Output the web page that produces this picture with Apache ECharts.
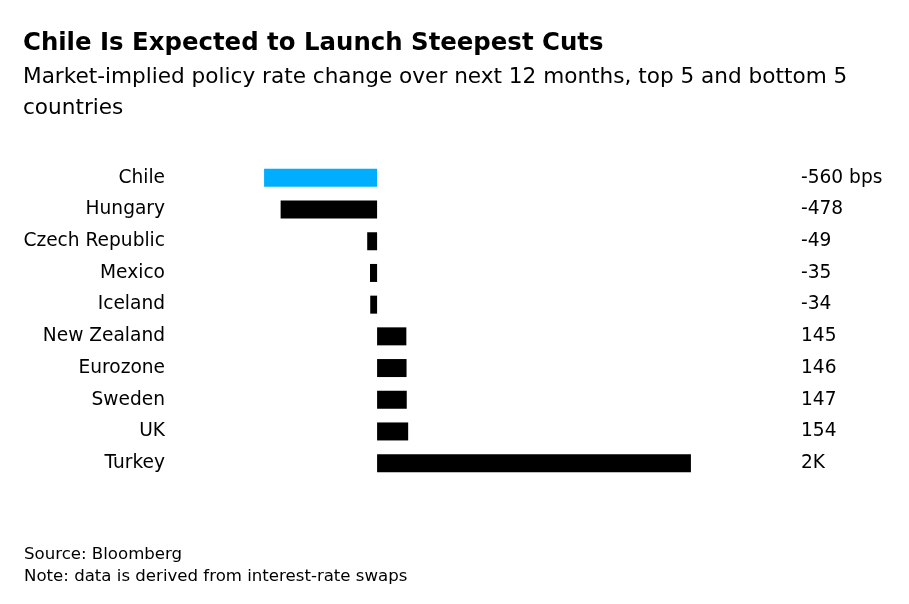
<!DOCTYPE html>
<html><head><meta charset="utf-8">
<script src="https://cdn.jsdelivr.net/npm/echarts@6/dist/echarts.min.js"></script>
<style>html,body{margin:0;padding:0;background:#fff}#c{width:909px;height:604px}</style>
</head><body><div id="c"></div>
<script>
const categories = ["Chile","Hungary","Czech Republic","Mexico","Iceland","New Zealand","Eurozone","Sweden","UK","Turkey"];
const values = [-560,-478,-49,-35,-34,145,146,147,154,1555];
const valueLabels = ["-560 bps","-478","-49","-35","-34","145","146","147","154","2K"];
const highlight = "Chile";

const chart = echarts.init(document.getElementById('c'), null, {renderer:'canvas'});
const font = "DejaVu Sans";
chart.setOption({
  animation:false,
  backgroundColor:'#fff',
  title:[
    {text:"Chile Is Expected to Launch Steepest Cuts", left:23, top:32, padding:0,
     textStyle:{fontFamily:font, fontWeight:'bold', fontSize:24.4, color:'#000'}},
    {text:"Market-implied policy rate change over next 12 months, top 5 and bottom 5\ncountries", left:23, top:62, padding:0,
     textStyle:{fontFamily:font, fontWeight:'normal', fontSize:21.6, lineHeight:31, color:'#000'}},
    {text:"Source: Bloomberg\nNote: data is derived from interest-rate swaps", left:24, top:544, padding:0,
     textStyle:{fontFamily:font, fontWeight:'normal', fontSize:16.6, lineHeight:22, color:'#000'}}
  ],
  grid:{left:256, width:444, top:162, height:317},
  xAxis:{type:'value', min:-600, max:1600, show:false},
  yAxis:[
    {type:'category', data:categories, inverse:true,
     axisLine:{show:false}, axisTick:{show:false},
     axisLabel:{margin:91, fontFamily:font, fontSize:18.6, color:'#000'}},
    {type:'category', data:valueLabels, inverse:true, position:'right',
     axisLine:{show:false}, axisTick:{show:false},
     axisLabel:{margin:101, align:'left', fontFamily:font, fontSize:18.6, color:'#000'}}
  ],
  series:[{
    type:'bar', yAxisIndex:0, barWidth:18,
    data: values.map((v,i)=>({value:v, itemStyle:{color: categories[i]===highlight ? '#00AEFF' : '#000'}}))
  }]
});
</script></body></html>
